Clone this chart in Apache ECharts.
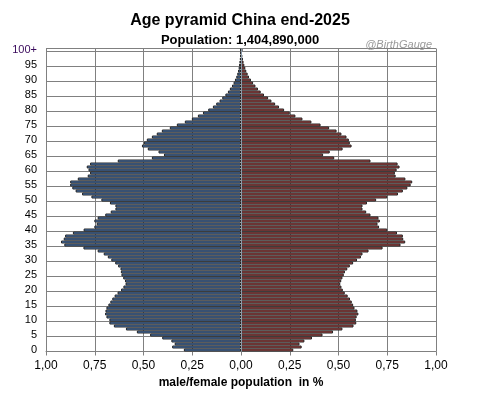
<!DOCTYPE html>
<html><head><meta charset="utf-8">
<script src="https://cdn.jsdelivr.net/npm/echarts@6/dist/echarts.min.js"></script>
<style>html,body{margin:0;padding:0;background:#fff}#c{width:480px;height:396px}</style>
</head><body><div id="c"></div>
<script>
// Age groups 0 .. 100+
const ageLabels = [];
for (let a = 0; a < 100; a++) ageLabels.push(String(a));
ageLabels.push('100+');

// Male share of population in % (ages 0..100+)
const male = [
  0.293,0.353,0.340,0.357,0.404,0.466,0.534,0.590,0.652,0.675,
  0.675,0.690,0.697,0.695,0.690,0.680,0.670,0.660,0.648,0.633,
  0.615,0.603,0.592,0.595,0.604,0.613,0.616,0.618,0.630,0.645,
  0.665,0.683,0.704,0.735,0.808,0.906,0.923,0.909,0.902,0.862,
  0.807,0.752,0.740,0.752,0.735,0.696,0.668,0.644,0.644,0.672,
  0.716,0.767,0.815,0.848,0.865,0.876,0.876,0.837,0.786,0.774,
  0.782,0.791,0.774,0.632,0.457,0.395,0.423,0.478,0.508,0.498,
  0.483,0.457,0.432,0.406,0.365,0.329,0.288,0.252,0.221,0.195,
  0.168,0.144,0.127,0.110,0.096,0.080,0.067,0.057,0.046,0.038,
  0.031,0.024,0.019,0.015,0.012,0.010,0.008,0.006,0.004,0.003,
  0.004
];
// Female share of population in % (ages 0..100+)
const female = [
  0.268,0.311,0.300,0.325,0.364,0.418,0.472,0.520,0.577,0.591,
  0.589,0.593,0.602,0.597,0.582,0.575,0.568,0.559,0.547,0.532,
  0.522,0.515,0.509,0.514,0.520,0.527,0.533,0.545,0.558,0.575,
  0.595,0.615,0.623,0.654,0.726,0.818,0.842,0.832,0.830,0.800,
  0.750,0.708,0.700,0.712,0.705,0.664,0.642,0.623,0.623,0.646,
  0.693,0.750,0.805,0.830,0.853,0.870,0.878,0.843,0.793,0.789,
  0.798,0.813,0.803,0.664,0.478,0.421,0.455,0.521,0.567,0.558,
  0.553,0.541,0.515,0.490,0.452,0.408,0.361,0.315,0.279,0.250,
  0.221,0.195,0.175,0.156,0.139,0.118,0.101,0.087,0.074,0.062,
  0.051,0.041,0.034,0.027,0.022,0.017,0.013,0.010,0.007,0.005,
  0.008
];

const titleText = 'Age pyramid China end-2025';
const subtitleText = 'Population: 1,404,890,000';
const creditText = '@BirthGauge';
const xAxisName = 'male/female population  in %';

const FONT = '"Liberation Sans", Arial, sans-serif';
const chart = echarts.init(document.getElementById('c'), null, {renderer: 'canvas'});
chart.setOption({
  animation: false,
  backgroundColor: '#fff',
  title: [
    {text: titleText, left: 'center', top: 8,
     textStyle: {fontFamily: FONT, fontSize: 16, fontWeight: 'bold', color: '#000'}},
    {text: subtitleText, left: 'center', top: 29,
     textStyle: {fontFamily: FONT, fontSize: 13, fontWeight: 'bold', color: '#000'}},
    {text: creditText, right: 43, top: 34,
     textStyle: {fontFamily: FONT, fontSize: 11, fontStyle: 'italic', fontWeight: 'normal', color: '#9a9a9a'}}
  ],
  grid: {left: 46, right: 44, top: 48.5, bottom: 44.5, outerBoundsMode: 'none', containLabel: false},
  xAxis: {
    type: 'value', min: -1, max: 1, interval: 0.25,
    name: xAxisName, nameLocation: 'middle', nameGap: 25,
    nameTextStyle: {fontFamily: FONT, fontSize: 12, fontWeight: 'bold', color: '#000'},
    axisLine: {show: true, onZero: false, lineStyle: {color: '#808080', width: 1}},
    axisTick: {show: true, length: 4, lineStyle: {color: '#808080'}},
    axisLabel: {fontFamily: FONT, fontSize: 12, color: '#000', margin: 8,
      formatter: v => Math.abs(v).toFixed(2).replace('.', ',')},
    splitLine: {show: true, lineStyle: {color: '#808080', width: 1}}
  },
  yAxis: {
    type: 'category', data: ageLabels, boundaryGap: true,
    axisLine: {show: false},
    axisTick: {show: false, interval: 4},
    axisLabel: {interval: 4, fontFamily: FONT, fontSize: 11, margin: 9,
      color: (v) => v === '100+' ? '#3a0a5c' : '#000'},
    splitLine: {show: true, interval: 4, lineStyle: {color: '#808080', width: 1}}
  },
  series: [
    {name: 'male', type: 'bar', data: male.map(v => -v), barGap: '-100%', barCategoryGap: '0%',
     itemStyle: {color: '#4A7DBE', borderColor: '#262626', borderWidth: 1}},
    {name: 'female', type: 'bar', data: female, barGap: '-100%', barCategoryGap: '0%',
     itemStyle: {color: '#B04543', borderColor: '#262626', borderWidth: 1},
     markLine: {silent: true, symbol: 'none', label: {show: false},
       lineStyle: {color: '#8a9aaa', width: 1, type: 'solid'},
       data: [{xAxis: 0}]}}
  ]
});
</script>
</body></html>
